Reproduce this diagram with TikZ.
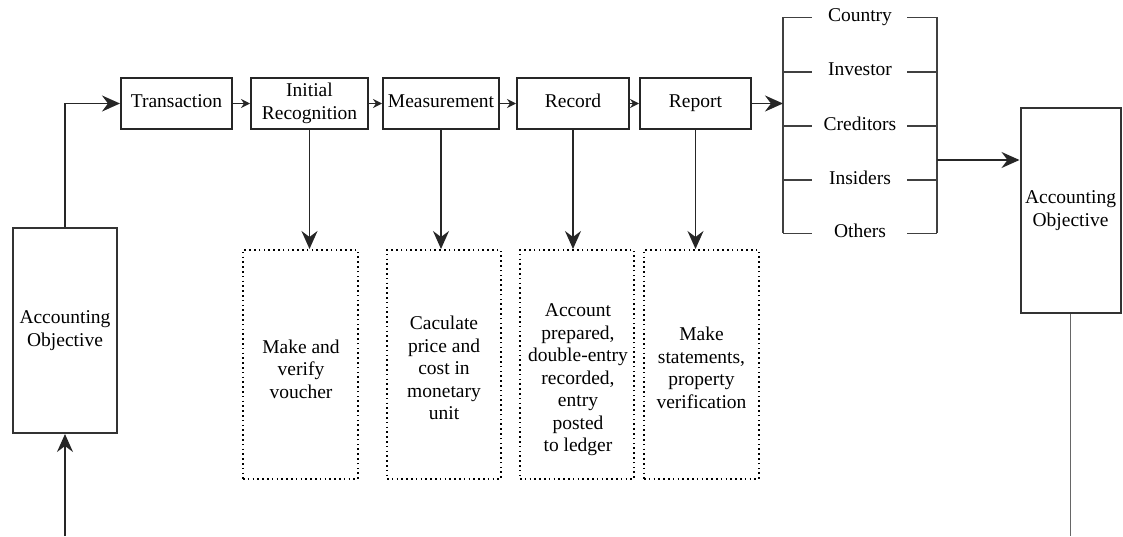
\documentclass[tikz,border=0pt]{standalone}
\usepackage{fontspec}
\setmainfont{Liberation Serif}
\usetikzlibrary{arrows.meta}
\begin{document}
\begin{tikzpicture}[x=1pt,y=-1pt,
  font=\fontsize{19.5}{22.5}\selectfont,
  stepbox/.style={draw=black!85,line width=2pt,minimum height=51pt,inner sep=1pt,align=center},
  oneline/.style={text height=13pt,text depth=4.5pt},
  objbox/.style={draw=black!80,line width=2pt,minimum height=205pt,inner sep=1pt,align=center},
  notebox/.style={draw=black,line width=2pt,dash pattern=on 1.6pt off 3.2pt,
    minimum height=229pt,inner sep=1pt,align=center},
  conn/.style={line width=1.8pt,draw=black!85},
  bigarrow/.style={conn,-{Stealth[length=18pt,width=16pt,inset=6pt]}},
  smallarrow/.style={conn,-{Stealth[length=9pt,width=9pt,inset=3pt]}},
  bracket/.style={line width=1.6pt,draw=black!75},
  user/.style={inner sep=1pt,text height=13pt,text depth=4.5pt}]
\useasboundingbox (0,0) rectangle (1123,536);

% main chain of steps
\node[stepbox,oneline,minimum width=111pt] (trans) at (176.5,103.5) {Transaction};
\node[stepbox,minimum width=117pt] (init) at (309.5,103.5) {Initial\\Recognition};
\node[stepbox,oneline,minimum width=116pt] (meas) at (441,103.5) {Measurement};
\node[stepbox,oneline,minimum width=112pt] (rec) at (573,103.5) {Record};
\node[stepbox,oneline,minimum width=111pt] (rep) at (695.5,103.5) {Report};

% objectives
\node[objbox,minimum width=104pt] (lobj) at (65,330.5) {Accounting\\Objective};
\node[objbox,minimum width=100pt] (robj) at (1070.5,210.5) {Accounting\\Objective};

% activity notes
\node[notebox,minimum width=115pt] (n1) at (300.5,364.5) {};
\node[notebox,minimum width=114pt] (n2) at (444,364.5) {};
\node[notebox,minimum width=114pt] (n3) at (577,364.5) {};
\node[notebox,minimum width=115pt] (n4) at (701.5,364.5) {};
\node[align=center] (t1) at (301,369) {Make and\\verify\\voucher};
\node[align=center] (t2) at (444,368) {Caculate\\price and\\cost in\\monetary\\unit};
\node[align=center] (t3) at (578,380) {Account\\prepared,\\double-entry\\recorded,\\entry\\posted\\to ledger};
\node[align=center] (t4) at (701.5,368) {Make\\statements,\\property\\verification};

% users of the report
\node[user] (u1) at (860,17.3) {Country};
\node[user] (u2) at (860,71.7) {Investor};
\node[user] (u3) at (860,126) {Creditors};
\node[user] (u4) at (860,180) {Insiders};
\node[user] (u5) at (860,233.3) {Others};

\coordinate (bl) at (783,17.3);
\coordinate (br) at (937,17.3);
\coordinate (bl2) at (783,233.3);
\coordinate (br2) at (937,233.3);
\coordinate (tl) at (812,0);
\coordinate (tr) at (907,0);
\coordinate (bout) at (937,160);
\coordinate (lin) at (65,536);
\coordinate (rout) at (1072,536);

% bracket around the users
\draw[bracket] (bl) -- (bl2);
\draw[bracket] (br) -- (br2);
\foreach \u in {u1,u2,u3,u4,u5}{
  \draw[bracket] (bl |- \u) -- (tl |- \u);
  \draw[bracket] (tr |- \u) -- (br |- \u);
}

% connectors
\draw[bigarrow] (lin) -- (lobj.south);
\draw[bigarrow] (lobj.north) |- (trans.west);
\draw[smallarrow] (trans) -- (init);
\draw[smallarrow] (init) -- (meas);
\draw[smallarrow] (meas) -- (rec);
\draw[smallarrow] (rec) -- (rep);
\draw[bigarrow] (rep.east) -- (rep.east -| bl);

\draw[bigarrow] (init.south) -- (init.south |- n1.north);
\draw[bigarrow] (meas.south) -- (meas.south |- n2.north);
\draw[bigarrow] (rec.south) -- (rec.south |- n3.north);
\draw[bigarrow] (rep.south) -- (rep.south |- n4.north);

\draw[bigarrow] (bout) -- (bout -| robj.west);
\draw[line width=1.6pt,draw=black!60] (robj.south) -- (robj.south |- rout);
\end{tikzpicture}
\end{document}
